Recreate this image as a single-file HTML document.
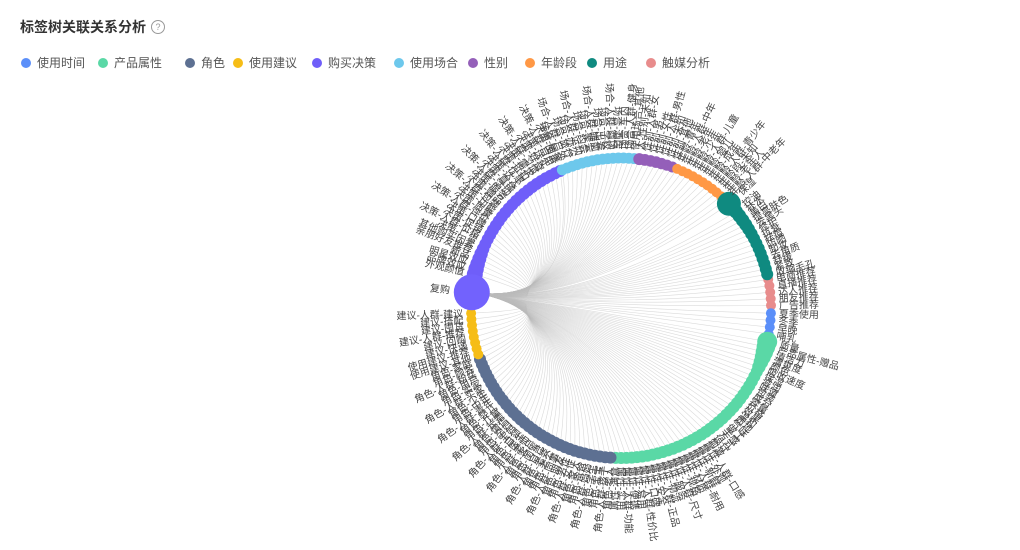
<!DOCTYPE html>
<html><head><meta charset="utf-8">
<style>
body{margin:0;background:#fff;font-family:"Liberation Sans","Noto Sans CJK SC",sans-serif;}
#w{position:relative;width:1020px;height:550px;overflow:hidden;}
.t{position:absolute;left:20px;top:17px;font-size:14px;font-weight:bold;color:#333;}
.q{position:absolute;left:151px;top:20px;width:12px;height:12px;border:1px solid #999;border-radius:50%;font-size:9px;line-height:12px;text-align:center;color:#999;}
.lg{position:absolute;top:54px;font-size:12px;color:#555;white-space:nowrap;}
.lg i{display:inline-block;width:10px;height:10px;border-radius:50%;vertical-align:-1px;margin-right:6px;}
</style></head><body><div id="w">
<div class="t">标签树关联关系分析</div><div class="q">?</div>
<div class="lg" style="left:21px"><i style="background:#5b8ff9"></i>使用时间</div>
<div class="lg" style="left:98px"><i style="background:#5ad8a6"></i>产品属性</div>
<div class="lg" style="left:185px"><i style="background:#5d7092"></i>角色</div>
<div class="lg" style="left:233px"><i style="background:#f6bd16"></i>使用建议</div>
<div class="lg" style="left:312px"><i style="background:#6f5ef9"></i>购买决策</div>
<div class="lg" style="left:394px"><i style="background:#6dc8ec"></i>使用场合</div>
<div class="lg" style="left:468px"><i style="background:#945fb9"></i>性别</div>
<div class="lg" style="left:525px"><i style="background:#ff9845"></i>年龄段</div>
<div class="lg" style="left:587px"><i style="background:#0f8a80"></i>用途</div>
<div class="lg" style="left:646px"><i style="background:#e88c8c"></i>触媒分析</div>
<svg id="s" width="1020" height="550" style="position:absolute;left:0;top:0"></svg>
</div>
<script>
var cx=621,cy=308,R=150;
var segs=[
["#e88c8c",349,359,5,5,5,"触媒",["电商推荐","直播推荐","达人推荐","朋友推荐","广告推荐"]],
["#5b8ff9",2,10,4,5,5,"时间",["夏季使用","冬季","早晚","哺乳"]],
["#5ad8a6",13,92,40,10,6,"属性",["质量","产品属性-赠品","清洁力","清爽度","颜色","吸收速度","保湿","滋润","味道","包装","成分","容量","价格","效果","温和","质地","气味","做工","手感","方式","设计","刺激","口感","外观","新鲜","耐用","材质","规格","尺寸","服务","物流","正品","安全","口碑","性价比","易用","便携","功能","实用","满意"]],
["#5d7092",94,160,34,6,6,"角色",["老人","孩子","宝宝","学生","妈妈","爸爸","家人","女性","男性","朋友","同事","老公","老婆","自己","闺蜜","客户","老师","医生","白领","宝妈","孕妇","情侣","长辈","儿童","婴儿","青年","中年","少年","买家","卖家","用户","粉丝","顾客","家庭"]],
["#f6bd16",162,178,8,5,5,"建议",["使用建议-其他","使用建议-推荐","快递","回购","推荐","囤货","搭配","建议"]],
["#6f5ef9",193,246,27,8,6,"决策",["外观颜值","品牌效应","明星效应","新品","亲朋好友推荐","其他购买因素","广告","价格","促销","口碑","评价","质量","功能","包装","赠品","服务","活动","直播","达人","优惠","折扣","需求","习惯","好奇","送礼","自用","囤货"]],
["#6dc8ec",247,275,15,5.5,5.5,"场合",["居家","户外","旅行","办公","运动","约会","聚会","睡前","出差","学校","商场","酒店","车内","健身","使用场合-其他"]],
["#945fb9",277,290,7,6,5.5,"性别",["人-性别-未知","女","男","女性","男性","性别-未知","其他"]],
["#ff9845",292,314,11,5,5,"年龄",["青年","中年","老年","少年","儿童","婴儿","成年","青少年","年龄段-未知","老年人","中老年"]],
["#0f8a80",320,347,14,7,6,"用途",["控油","补水","美白","提亮肤色","去黑头","修护","抗衰","祛痘","防晒","卸妆","去角质","舒缓","紧致","收缩毛孔"]]
];
var ed='',nd='',tx='';
var hx=cx+R*Math.cos(186*Math.PI/180),hy=cy+R*Math.sin(186*Math.PI/180);
function add(a,r,c,lab){
 var t=a*Math.PI/180,x=cx+R*Math.cos(t),y=cy+R*Math.sin(t);
 ed+='<path d="M'+hx.toFixed(1)+' '+hy.toFixed(1)+' Q'+(cx-40)+' '+(cy)+' '+x.toFixed(1)+' '+y.toFixed(1)+'" />';
 nd+='<circle cx="'+x.toFixed(1)+'" cy="'+y.toFixed(1)+'" r="'+r.toFixed(1)+'" fill="'+c+'"/>';
 var rr=R+r+3,lx=cx+rr*Math.cos(t),ly=cy+rr*Math.sin(t);
 var aa=((a%360)+360)%360,left=aa>90&&aa<270;
 var rot=left?aa+180:aa;
 tx+='<text x="'+lx.toFixed(1)+'" y="'+ly.toFixed(1)+'" dy="3.5" text-anchor="'+(left?'end':'start')+'" transform="rotate('+rot.toFixed(1)+' '+lx.toFixed(1)+' '+ly.toFixed(1)+')">'+lab+'</text>';
}
segs.forEach(function(g){
 for(var i=0;i<g[3];i++){
  var a=g[1]+(g[2]-g[1])*i/(g[3]-1);
  var r=g[4]+(g[5]-g[4])*Math.min(1,i/6);
  var lab=g[7][i%g[7].length];
  var k=g[6];
  var keep=(k=="属性"&&i<22)||(k=="决策"&&i<4)||(k=="建议"&&i<2)||k=="用途"||k=="触媒"||k=="时间";
  if(!keep&&lab.length<5) lab=k+(i%3==1?'-人群-':'-')+lab;
  add(a,r,g[0],lab);
 }
});
add(316,12,"#0f8a80","保湿");
nd+='<circle cx="'+hx.toFixed(1)+'" cy="'+hy.toFixed(1)+'" r="18" fill="#7262fd"/>';
var hl=R+22,t=186*Math.PI/180,qx=(cx+hl*Math.cos(t)).toFixed(1),qy=(cy+hl*Math.sin(t)).toFixed(1);
tx+='<text x="'+qx+'" y="'+qy+'" dy="3.5" text-anchor="end" transform="rotate(6 '+qx+' '+qy+')">复购</text>';
document.getElementById('s').innerHTML='<g fill="none" stroke="#bbb" stroke-width="0.6" stroke-opacity="0.55">'+ed+'</g><g>'+nd+'</g><g font-size="10" fill="#444" font-family="Liberation Sans,Noto Sans CJK SC,sans-serif">'+tx+'</g>';
</script>
</body></html>
